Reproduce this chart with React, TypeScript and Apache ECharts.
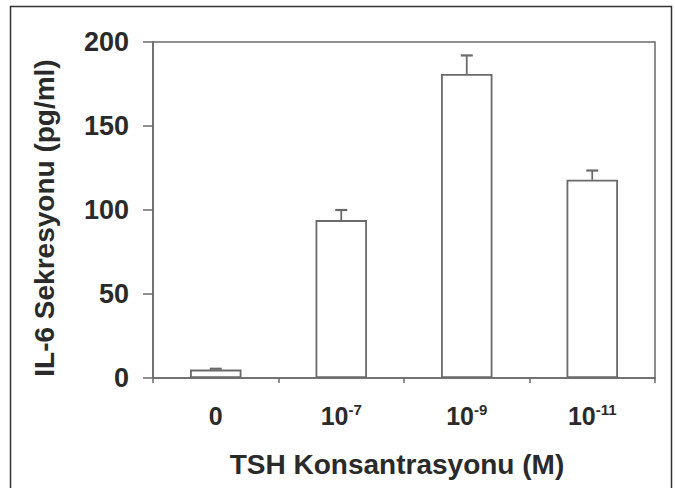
import React, { useEffect, useRef } from "react";
import * as echarts from "echarts";

const categoryBase = ["0", "10", "10", "10"];
const categoryExp = ["", "-7", "-9", "-11"];
const categories = ["0", "10^-7", "10^-9", "10^-11"];
const values = [5, 94, 181, 118];
const errors = [0.5, 6, 11, 5.5];
const yTicks = [0, 50, 100, 150, 200];

const yName = "IL-6 Sekresyonu (pg/ml)";
const xName = "TSH Konsantrasyonu (M)";

const FONT = "'Liberation Sans', Arial, Helvetica, sans-serif";
const LINE = "#6a6a6a";
const TEXT = "#2a2a2a";

export default function App() {
  const ref = useRef<HTMLDivElement>(null);
  useEffect(() => {
    if (!ref.current) return;
    const chart = echarts.init(ref.current, undefined, { renderer: "svg" });
    const errData = values.map((v, i) => [i, v, v + errors[i]]);
    chart.setOption({
      animation: false,
      backgroundColor: "#ffffff",
      grid: {
        left: 153,
        right: 20,
        top: 42,
        bottom: 110,
        show: true,
        borderColor: LINE,
        borderWidth: 1.5,
        backgroundColor: "transparent",
      },
      graphic: [
        {
          type: "rect",
          shape: { x: 10.5, y: 6.5, width: 661, height: 492 },
          style: { fill: "none", stroke: "#333", lineWidth: 1.5 },
          silent: true,
        },
      ],
      xAxis: {
        type: "category",
        data: categories,
        boundaryGap: true,
        axisLine: { show: true, lineStyle: { color: LINE, width: 1.5 } },
        axisTick: { show: true, length: 5, lineStyle: { color: LINE, width: 1.5 } },
        axisLabel: {
          margin: 24,
          formatter: (_v: string, idx: number) =>
            categoryExp[idx]
              ? `{b|${categoryBase[idx]}}{s|${categoryExp[idx]}}`
              : `{b|${categoryBase[idx]}}`,
          rich: {
            b: { fontFamily: FONT, fontWeight: "bold", fontSize: 25, color: TEXT, lineHeight: 26, verticalAlign: "bottom" },
            s: { fontFamily: FONT, fontWeight: "bold", fontSize: 15, color: TEXT, lineHeight: 26, verticalAlign: "top", padding: [0, 0, 10, 0] },
          },
        },
        name: xName,
        nameLocation: "middle",
        nameGap: 72,
        nameTextStyle: {
          fontFamily: FONT,
          fontWeight: "bold",
          fontSize: 28,
          color: TEXT,
          padding: [0, 14, 0, 0],
        },
        splitLine: { show: false },
      },
      yAxis: {
        type: "value",
        min: 0,
        max: 200,
        interval: 50,
        axisLine: { show: true, lineStyle: { color: LINE, width: 1.5 } },
        axisTick: { show: true, length: 10, lineStyle: { color: LINE, width: 1.5 } },
        axisLabel: {
          margin: 24,
          fontFamily: FONT,
          fontWeight: "bold",
          fontSize: 27,
          color: TEXT,
          formatter: (v: number) => (yTicks.includes(v) ? String(v) : ""),
        },
        splitLine: { show: false },
        name: yName,
        nameLocation: "middle",
        nameGap: 95,
        nameTextStyle: {
          fontFamily: FONT,
          fontWeight: "bold",
          fontSize: 28,
          color: TEXT,
          padding: [0, 16, 0, 0],
        },
      },
      series: [
        {
          type: "bar",
          data: values,
          barWidth: "41%",
          itemStyle: { color: "#ffffff", borderColor: LINE, borderWidth: 1.8 },
          z: 2,
        },
        {
          type: "custom",
          data: errData,
          z: 3,
          renderItem: (_params: any, api: any) => {
            const x = api.value(0);
            const lo = api.coord([x, api.value(1)]);
            const hi = api.coord([x, api.value(2)]);
            const half = 6;
            return {
              type: "group",
              children: [
                {
                  type: "line",
                  shape: { x1: lo[0], y1: lo[1], x2: hi[0], y2: hi[1] },
                  style: { stroke: LINE, lineWidth: 1.8 },
                },
                {
                  type: "line",
                  shape: { x1: hi[0] - half, y1: hi[1], x2: hi[0] + half, y2: hi[1] },
                  style: { stroke: LINE, lineWidth: 2.2 },
                },
              ],
            };
          },
        },
      ],
    });
    return () => chart.dispose();
  }, []);
  return (
    <div
      ref={ref}
      style={{ position: "fixed", left: 0, top: 0, width: 675, height: 488 }}
    />
  );
}
